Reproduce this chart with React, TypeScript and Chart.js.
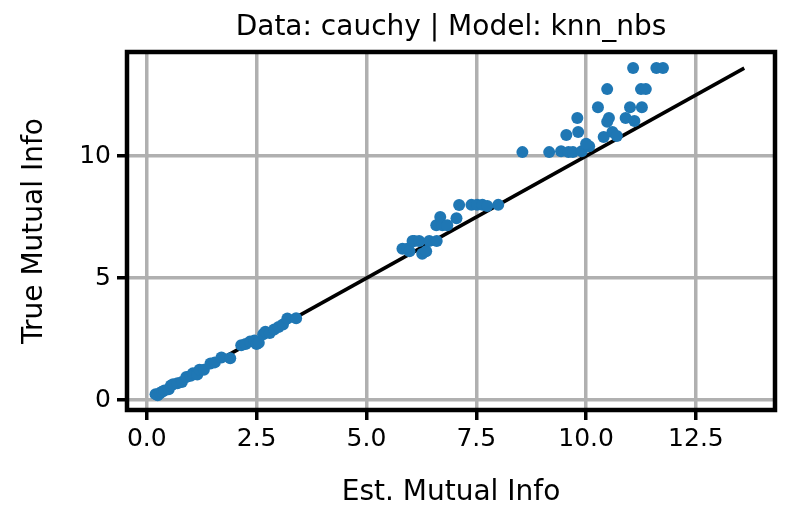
import { useEffect, useRef } from "react"
import { Chart, registerables } from "chart.js"

Chart.register(...registerables)

// estimated mutual info (x) vs true mutual info (y)
const estX = [
  0.2, 0.25, 0.3, 0.35, 0.4, 0.5, 0.55, 0.6, 0.7, 0.8, 0.9, 1.0, 1.05, 1.15, 1.2, 1.3, 1.45, 1.55, 1.7, 1.9,
  2.15, 2.25, 2.35, 2.45, 2.5, 2.55, 2.65, 2.7, 2.8, 2.9, 3.0, 3.1, 3.2, 3.4,
  5.82, 5.93, 5.98, 6.05, 6.09, 6.2, 6.27, 6.36, 6.43, 6.6, 6.59, 6.68, 6.73, 6.84, 7.05, 7.11, 7.39, 7.52, 7.64, 7.75, 8.0,
  8.55, 9.16, 9.43, 9.6, 9.7, 9.9, 10.07, 10.0, 9.55, 9.82, 9.8, 10.27, 10.48, 11.07, 11.6, 11.75, 11.25, 11.36, 11.0, 11.27,
  10.52, 10.48, 10.9, 11.1, 10.4, 10.6, 10.7,
]
const trueY = [
  0.25, 0.2, 0.3, 0.35, 0.4, 0.45, 0.6, 0.65, 0.7, 0.75, 0.95, 1.0, 1.1, 1.05, 1.25, 1.25, 1.5, 1.55, 1.75, 1.72,
  2.25, 2.3, 2.4, 2.45, 2.3, 2.35, 2.7, 2.8, 2.75, 2.9, 3.0, 3.1, 3.35, 3.36,
  6.2, 6.2, 6.1, 6.52, 6.52, 6.52, 6.0, 6.1, 6.52, 6.52, 7.17, 7.5, 7.17, 7.17, 7.45, 7.99, 8.0, 8.0, 8.0, 7.95, 8.0,
  10.16, 10.16, 10.2, 10.16, 10.16, 10.2, 10.4, 10.5, 10.86, 10.98, 11.56, 12.0, 12.74, 13.6, 13.6, 13.6, 12.74, 12.74, 12.0, 12.0,
  11.56, 11.4, 11.56, 11.43, 10.78, 10.98, 10.82,
]
const diagEnds = [0.2, 13.6]
const xTicks = [0, 2.5, 5, 7.5, 10, 12.5]
const yTicks = [0, 5, 10]

const FONT = "DejaVu Sans"

export default function App() {
  const ref = useRef<HTMLCanvasElement>(null)

  useEffect(() => {
    if (!ref.current) return
    const framePlugin = {
      id: "frame",
      afterDraw(chart: any) {
        const { ctx, chartArea: a } = chart
        ctx.save()
        ctx.strokeStyle = "#000"
        ctx.lineWidth = 4.5
        ctx.strokeRect(a.left, a.top, a.right - a.left, a.bottom - a.top)
        ctx.fillStyle = "#000"
        ctx.textAlign = "center"
        ctx.textBaseline = "middle"
        ctx.font = `28px '${FONT}'`
        ctx.fillText("Data: cauchy | Model: knn_nbs", (a.left + a.right) / 2, 28)
        ctx.fillText("Est. Mutual Info", (a.left + a.right) / 2, 493)
        ctx.translate(35, (a.top + a.bottom) / 2)
        ctx.rotate(-Math.PI / 2)
        ctx.fillText("True Mutual Info", 0, 0)
        ctx.restore()
      },
    }
    const chart = new Chart(ref.current, {
      type: "scatter",
      data: {
        datasets: [
          {
            type: "line",
            data: diagEnds.map((v) => ({ x: v, y: v })),
            borderColor: "#000",
            borderWidth: 3.5,
            pointRadius: 0,
            order: 2,
          } as any,
          {
            data: estX.map((x, i) => ({ x, y: trueY[i] })),
            backgroundColor: "#1f77b4",
            borderWidth: 0,
            pointRadius: 6,
            order: 1,
          },
        ],
      },
      options: {
        animation: false,
        responsive: false,
        layout: { padding: { top: 52, right: 13, left: 0, bottom: 0 } },
        plugins: { legend: { display: false }, tooltip: { enabled: false } },
        scales: {
          x: {
            type: "linear",
            min: -0.45,
            max: 14.3,
            afterBuildTicks: (s: any) => { s.ticks = xTicks.map((v) => ({ value: v })) },
            afterFit: (s: any) => { s.height = 116 },
            ticks: {
              font: { family: FONT, size: 25 },
              color: "#000",
              padding: 4,
              maxRotation: 0,
              callback: (v: any) => Number(v).toFixed(1),
            },
            grid: { color: "#b0b0b0", lineWidth: 3.5, tickLength: 10, tickColor: "#000", tickWidth: 3.5 },
            border: { display: false },
          },
          y: {
            type: "linear",
            min: -0.4,
            max: 14.26,
            afterBuildTicks: (s: any) => { s.ticks = yTicks.map((v) => ({ value: v })) },
            afterFit: (s: any) => { s.width = 127 },
            ticks: { font: { family: FONT, size: 25 }, color: "#000", padding: 6 },
            grid: { color: "#b0b0b0", lineWidth: 3.5, tickLength: 10, tickColor: "#000", tickWidth: 3.5 },
            border: { display: false },
          },
        },
      },
      plugins: [framePlugin],
    })
    return () => chart.destroy()
  }, [])

  return (
    <div style={{ margin: -8, background: "#fff" }}>
      <canvas ref={ref} width={788} height={526} style={{ display: "block" }} />
    </div>
  )
}
